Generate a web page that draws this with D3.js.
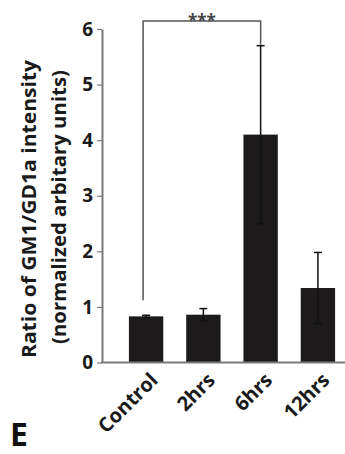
<!DOCTYPE html>
<html>
<head>
<meta charset="utf-8">
<script src="https://cdn.jsdelivr.net/npm/d3@7"></script>
<style>
  body { margin: 0; background: #fff; }
  text { font-family: "Open Sans", "DejaVu Sans", sans-serif; font-weight: 700; }
</style>
</head>
<body>
<div id="chart"></div>
<script>
// chart data
var groups = ["Control", "2hrs", "6hrs", "12hrs"];
var ratios = [0.83, 0.86, 4.1, 1.34];
var errors = [0.02, 0.11, 1.6, 0.64];
var yTicks = [0, 1, 2, 3, 4, 5, 6];
var sigLabel = "***";

var svgWidth = 345;
var svgHeight = 454;

var svg = d3.select("#chart")
  .append("svg")
  .attr("width", svgWidth)
  .attr("height", svgHeight);

// scales
var xScale = d3.scaleBand()
  .domain(groups)
  .range([106, 358])
  .paddingInner(0.4)
  .paddingOuter(0.4);

var yScale = d3.scaleLinear()
  .domain([0, 6])
  .range([362.5, 29]);

var axisColor = "#7a7a7a";

// y axis
var yAxis = svg.append("g")
  .attr("transform", "translate(102,0)")
  .call(d3.axisLeft(yScale).tickValues(yTicks).tickFormat(d3.format("d"))
    .tickSize(5).tickSizeOuter(0).tickPadding(4));

yAxis.select(".domain")
  .attr("stroke", axisColor)
  .attr("stroke-width", 2);
yAxis.selectAll(".tick line")
  .attr("stroke", axisColor)
  .attr("stroke-width", 1.2);
yAxis.selectAll(".tick text")
  .attr("fill", "#1a1a1a")
  .style("font-size", "19px");

// bars
svg.selectAll("rect.bar")
  .data(groups)
  .enter()
  .append("rect")
  .attr("class", "bar")
  .attr("x", d => xScale(d))
  .attr("y", (d, i) => yScale(ratios[i]))
  .attr("width", xScale.bandwidth())
  .attr("height", (d, i) => yScale(0) - yScale(ratios[i]))
  .attr("fill", "#1c1a1a");

// error bars
var errG = svg.append("g")
  .attr("stroke", "#111")
  .attr("stroke-width", 1.5);

groups.forEach(function(g, i) {
  var cx = xScale(g) + xScale.bandwidth() / 2;
  var hi = yScale(ratios[i] + errors[i]);
  var lo = yScale(ratios[i] - errors[i]);
  errG.append("line").attr("x1", cx).attr("x2", cx).attr("y1", hi).attr("y2", lo);
  errG.append("line").attr("x1", cx - 4).attr("x2", cx + 4).attr("y1", hi).attr("y2", hi);
  errG.append("line").attr("x1", cx - 4).attr("x2", cx + 4).attr("y1", lo).attr("y2", lo);
});

// x axis line
svg.append("line")
  .attr("x1", 101)
  .attr("x2", 345)
  .attr("y1", yScale(0))
  .attr("y2", yScale(0))
  .attr("stroke", axisColor)
  .attr("stroke-width", 2);

// x labels
var xAxis = svg.append("g")
  .attr("transform", `translate(0, ${yScale(0)})`)
  .call(d3.axisBottom(xScale).tickSize(0));
xAxis.select(".domain").remove();
xAxis.selectAll(".tick text")
  .attr("fill", "#1a1a1a")
  .style("font-size", "20px")
  .attr("text-anchor", "end")
  .attr("transform", "translate(8, 14) rotate(-45)")
  .attr("dy", "0.35em")
  .attr("y", 0);

// significance bracket
var bx1 = xScale("Control") + xScale.bandwidth() / 2 - 3;
var bx2 = xScale("6hrs") + xScale.bandwidth() / 2;
var by = 21;
svg.append("path")
  .attr("d", `M${bx1},${yScale(1.12)} V${by} H${bx2} V${yScale(ratios[2] + errors[2]) - 1}`)
  .attr("fill", "none")
  .attr("stroke", "#555")
  .attr("stroke-width", 1.5);

svg.append("text")
  .attr("x", (bx1 + bx2) / 2)
  .attr("y", 27)
  .attr("text-anchor", "middle")
  .attr("fill", "#444")
  .style("font-size", "17px")
  .text(sigLabel);

// y axis title
svg.append("text")
  .attr("transform", "translate(36, 209) rotate(-90)")
  .attr("text-anchor", "middle")
  .attr("textLength", 298)
  .attr("lengthAdjust", "spacingAndGlyphs")
  .attr("fill", "#1a1a1a")
  .style("font-size", "19px")
  .text("Ratio of GM1/GD1a intensity");

svg.append("text")
  .attr("transform", "translate(66, 207) rotate(-90)")
  .attr("text-anchor", "middle")
  .attr("textLength", 274)
  .attr("lengthAdjust", "spacingAndGlyphs")
  .attr("fill", "#1a1a1a")
  .style("font-size", "19px")
  .text("(normalized arbitary units)");

// panel letter
svg.append("text")
  .attr("x", 10)
  .attr("y", 446)
  .attr("fill", "#111")
  .style("font-size", "32px")
  .text("E");
</script>
</body>
</html>
